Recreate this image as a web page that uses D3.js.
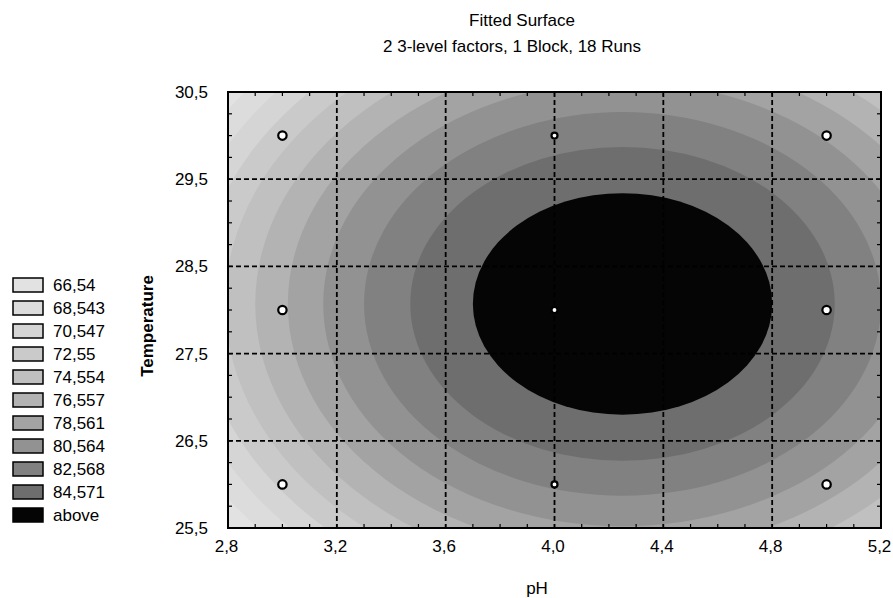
<!DOCTYPE html>
<meta charset="utf-8">
<style>
    body {
        margin: 0;
        background: white;
    }

    svg {
        font-family: "Liberation Sans", Arial, sans-serif;
        font-size: 17px;
    }

    .grid line {
        stroke: black;
        stroke-width: 1.8;
        stroke-dasharray: 5,3;
    }

    .minor line {
        stroke: black;
        stroke-width: 1.2;
    }
</style>
<body>
<script src="https://cdn.jsdelivr.net/npm/d3@7"></script>
<script>
    // legend / contour levels (upper bound of each band)
    const levelValues = [66.54, 68.543, 70.547, 72.55, 74.554, 76.557, 78.561, 80.564, 82.568, 84.571];
    const legendLabels = ["66,54", "68,543", "70,547", "72,55", "74,554", "76,557", "78,561", "80,564", "82,568", "84,571", "above"];

    // contour ellipses: centre of the surface and half widths per level
    const surfaceCenter = [4.25, 28.07];
    const contourRxPh = [1.74, 1.65, 1.56, 1.46, 1.35, 1.23, 1.10, 0.95, 0.78, 0.55];
    const contourRyTemp = [4.03, 3.82, 3.60, 3.37, 3.12, 2.85, 2.55, 2.20, 1.80, 1.27];

    // design points (3x3 factorial)
    const designPh = [3, 3, 3, 4, 4, 4, 5, 5, 5];
    const designTemp = [26, 28, 30, 26, 28, 30, 26, 28, 30];

    // axis ticks
    const xTicks = [2.8, 3.2, 3.6, 4.0, 4.4, 4.8, 5.2];
    const yTicks = [25.5, 26.5, 27.5, 28.5, 29.5, 30.5];

    const fills = ["#e2e2e2", "#dcdcdc", "#d5d5d5", "#cacaca", "#c0c0c0", "#b3b3b3",
                   "#a3a3a3", "#929292", "#818181", "#6e6e6e", "#050505"];

    const width = 893;
    const height = 598;
    const plotLeft = 228, plotRight = 881, plotTop = 92, plotBottom = 528;

    const svg = d3.select('body')
        .append('svg')
        .attr('width', width)
        .attr('height', height);

    const x = d3.scaleLinear().domain([2.8, 5.2]).range([plotLeft, plotRight]);
    const y = d3.scaleLinear().domain([25.5, 30.5]).range([plotBottom, plotTop]);

    const fmt = d => d3.format(".1f")(d).replace(".", ",");

    // titles
    svg.append("text")
        .attr("x", 522)
        .attr("y", 26)
        .attr("text-anchor", "middle")
        .text("Fitted Surface");

    svg.append("text")
        .attr("x", 512)
        .attr("y", 52)
        .attr("text-anchor", "middle")
        .text("2 3-level factors, 1 Block, 18 Runs");

    // clip for the surface
    svg.append("clipPath")
        .attr("id", "plotClip")
        .append("rect")
        .attr("x", plotLeft)
        .attr("y", plotTop)
        .attr("width", plotRight - plotLeft)
        .attr("height", plotBottom - plotTop);

    const plot = svg.append("g").attr("clip-path", "url(#plotClip)");

    // lowest band as background
    plot.append("rect")
        .attr("x", plotLeft)
        .attr("y", plotTop)
        .attr("width", plotRight - plotLeft)
        .attr("height", plotBottom - plotTop)
        .attr("fill", fills[0]);

    // each level boundary drawn as filled ellipse, outer first
    plot.selectAll(".contour")
        .data(levelValues)
        .enter().append("ellipse")
        .attr("class", "contour")
        .attr("cx", x(surfaceCenter[0]))
        .attr("cy", y(surfaceCenter[1]))
        .attr("rx", (d, i) => x(surfaceCenter[0] + contourRxPh[i]) - x(surfaceCenter[0]))
        .attr("ry", (d, i) => y(surfaceCenter[1]) - y(surfaceCenter[1] + contourRyTemp[i]))
        .attr("fill", (d, i) => fills[i + 1]);

    // dashed grid at major ticks
    const grid = svg.append("g").attr("class", "grid");
    grid.selectAll(".gx")
        .data(xTicks.slice(1, -1))
        .enter().append("line")
        .attr("x1", d => x(d)).attr("x2", d => x(d))
        .attr("y1", plotTop).attr("y2", plotBottom);
    grid.selectAll(".gy")
        .data(yTicks.slice(1, -1))
        .enter().append("line")
        .attr("x1", plotLeft).attr("x2", plotRight)
        .attr("y1", d => y(d)).attr("y2", d => y(d));

    // minor ticks inside the frame
    const minor = svg.append("g").attr("class", "minor");
    const xMinor = d3.range(2.8, 5.2001, 0.1);
    const yMinor = d3.range(25.5, 30.5001, 0.25);
    xMinor.forEach(v => {
        minor.append("line").attr("x1", x(v)).attr("x2", x(v)).attr("y1", plotBottom).attr("y2", plotBottom - 4);
        minor.append("line").attr("x1", x(v)).attr("x2", x(v)).attr("y1", plotTop).attr("y2", plotTop + 4);
    });
    yMinor.forEach(v => {
        minor.append("line").attr("x1", plotLeft).attr("x2", plotLeft + 4).attr("y1", y(v)).attr("y2", y(v));
        minor.append("line").attr("x1", plotRight).attr("x2", plotRight - 4).attr("y1", y(v)).attr("y2", y(v));
    });

    // frame
    svg.append("rect")
        .attr("x", plotLeft)
        .attr("y", plotTop)
        .attr("width", plotRight - plotLeft)
        .attr("height", plotBottom - plotTop)
        .attr("fill", "none")
        .attr("stroke", "black")
        .attr("stroke-width", 2);

    // design points
    svg.selectAll(".pt")
        .data(designPh)
        .enter().append("circle")
        .attr("class", "pt")
        .attr("cx", d => x(d))
        .attr("cy", (d, i) => y(designTemp[i]))
        .attr("r", d => d === 4 ? 3 : 4.2)
        .attr("fill", "white")
        .attr("stroke", "black")
        .attr("stroke-width", 2.2);

    // axes: labels only
    const xAxis = d3.axisBottom(x).tickValues(xTicks).tickFormat(fmt).tickSize(0).tickPadding(12);
    const yAxis = d3.axisLeft(y).tickValues(yTicks).tickFormat(fmt).tickSize(0).tickPadding(20);

    const gX = svg.append("g")
        .attr("transform", "translate(-2," + plotBottom + ")")
        .call(xAxis);
    const gY = svg.append("g")
        .attr("transform", "translate(" + plotLeft + ",0)")
        .call(yAxis);

    [gX, gY].forEach(g => {
        g.select(".domain").remove();
        g.selectAll("text")
            .attr("fill", "black")
            .style("font-size", "17px")
            .style("font-family", "'Liberation Sans', Arial, sans-serif");
    });

    svg.append("text")
        .attr("x", 537)
        .attr("y", 594)
        .attr("text-anchor", "middle")
        .text("pH");

    svg.append("text")
        .attr("transform", "translate(153,326) rotate(-90)")
        .attr("text-anchor", "middle")
        .style("font-weight", "bold")
        .text("Temperature");

    // legend
    const legend = svg.append("g").selectAll(".legend")
        .data(legendLabels)
        .enter().append("g")
        .attr("class", "legend")
        .attr("transform", (d, i) => "translate(13," + (278 + i * 23) + ")");

    legend.append("rect")
        .attr("width", 30)
        .attr("height", 14)
        .attr("fill", (d, i) => fills[i])
        .attr("stroke", "black")
        .attr("stroke-width", 1.5);

    legend.append("text")
        .attr("x", 40)
        .attr("y", 7)
        .attr("dy", ".35em")
        .text(d => d);
</script>
</body>
</html>
